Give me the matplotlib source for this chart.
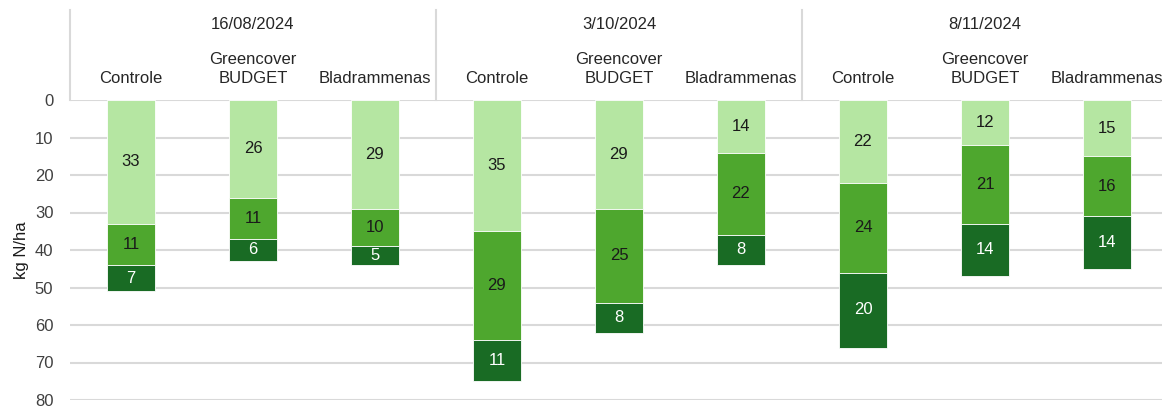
import matplotlib
matplotlib.use("Agg")
import matplotlib.pyplot as plt
import numpy as np

plt.rcParams['font.family'] = ['Liberation Sans', 'DejaVu Sans']

dates = ["16/08/2024", "3/10/2024", "8/11/2024"]
treatments = ["Controle", "Greencover\nBUDGET", "Bladrammenas"]

# nitrogen per soil layer (kg N/ha), one value per date x treatment
layer_top = [33, 26, 29, 35, 29, 14, 22, 12, 15]
layer_mid = [11, 11, 10, 29, 25, 22, 24, 21, 16]
layer_deep = [7, 6, 5, 11, 8, 8, 20, 14, 14]

colors = ["#B5E6A2", "#4EA72E", "#196B24"]
text_colors = ["#1a1a1a", "#1a1a1a", "#ffffff"]

W, H, DPI = 1162, 407, 100
fig = plt.figure(figsize=(W / DPI, H / DPI), dpi=DPI)
ax_left, ax_right, ax_top, ax_bottom = 70, 1168, 100, 400
ax = fig.add_axes([ax_left / W, 1 - ax_bottom / H,
                   (ax_right - ax_left) / W, (ax_bottom - ax_top) / H])

n = len(layer_top)
x = np.arange(n)
bottom = np.zeros(n)
for vals, col, tcol in zip([layer_top, layer_mid, layer_deep], colors, text_colors):
    vals = np.array(vals, dtype=float)
    ax.bar(x, vals, bottom=bottom, width=0.4, color=col,
           edgecolor="white", linewidth=0.6, zorder=3)
    for xi, b, v in zip(x, bottom, vals):
        ax.text(xi, b + v / 2, f"{int(v)}", ha="center", va="center",
                fontsize=12, color=tcol, zorder=4)
    bottom += vals

ax.set_xlim(-0.5, n - 0.5)
ax.set_ylim(80, 0)
ax.set_yticks(np.arange(0, 81, 10))
ax.set_xticks([])
ax.tick_params(axis="y", length=0, pad=12, labelsize=12, labelcolor="#404040")
ax.yaxis.grid(True, color="#d9d9d9", linewidth=1.5, zorder=0)
for s in ax.spines.values():
    s.set_visible(False)
ax.set_ylabel("kg N/ha", fontsize=12, color="#1a1a1a")
ax.yaxis.set_label_coords(-0.037, 0.5)

# header: dates, treatments and group separators
header_h = 0.3
for g in range(len(dates) + 1):
    xs = g * 3 - 0.5
    ax.plot([xs, xs], [1.0, 1.0 + header_h], transform=ax.get_xaxis_transform(),
            color="#d9d9d9", linewidth=1.5, clip_on=False)
for g, d in enumerate(dates):
    ax.text(g * 3 + 1, 1.253, d, transform=ax.get_xaxis_transform(),
            ha="center", va="center", fontsize=12, color="#262626")
    for t, name in enumerate(treatments):
        ax.text(g * 3 + t, 1.047, name, transform=ax.get_xaxis_transform(),
                ha="center", va="bottom", fontsize=12, color="#262626",
                linespacing=1.35)

fig.savefig("out.png", dpi=DPI)
